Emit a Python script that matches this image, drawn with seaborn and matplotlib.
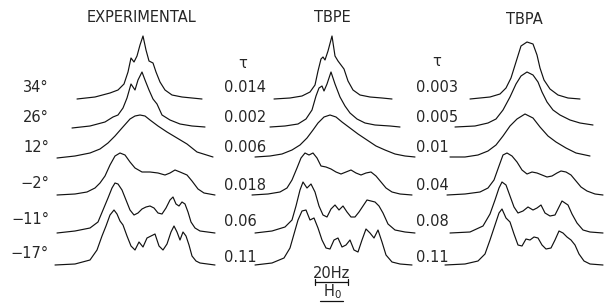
import pandas as pd
import matplotlib.pyplot as plt
import seaborn as sns

# Stacked 19F NMR spectra: experimental vs. two simulations at six temperatures.
temps = ["34°", "26°", "12°", "−2°", "−11°", "−17°"]
tau_tbpe = ["0.014", "0.002", "0.006", "0.018", "0.06", "0.11"]
tau_tbpa = ["0.003", "0.005", "0.01", "0.04", "0.08", "0.11"]
panels = ["EXPERIMENTAL", "TBPE", "TBPA"]

# frequency (chart units from panel start) and intensity above baseline
exp_freq = [
    [22, 40, 55, 63, 69, 73, 76, 79, 82, 85, 88, 91, 94, 98, 101, 105, 110, 117, 127, 137, 147],
    [17, 35, 50, 58, 63, 68, 72, 76, 80, 83, 87, 90, 94, 98, 102, 107, 115, 125, 137, 150],
    [2, 20, 35, 45, 53, 60, 67, 75, 80, 85, 90, 95, 103, 112, 122, 132, 142, 158],
    [2, 20, 32, 40, 45, 50, 55, 60, 65, 70, 75, 80, 87, 95, 103, 110, 115, 120, 125, 132, 137, 143, 149, 160],
    [2, 20, 35, 43, 48, 53, 57, 60, 63, 67, 71, 75, 79, 83, 87, 91, 95, 99, 103, 107, 111, 115, 118, 121, 124,
     127, 130, 133, 136, 140, 145, 160],
    [0, 20, 35, 42, 47, 51, 55, 59, 62, 65, 68, 72, 76, 80, 84, 88, 92, 96, 100, 104, 108, 112, 116, 119, 122,
     125, 128, 131, 134, 137, 141, 145, 160],
]
exp_int = [
    [0, 2, 6, 9, 15, 27, 41, 37, 43, 54, 63, 49, 38, 36, 27, 17, 9, 4, 2, 1, 0],
    [-1, 1, 5, 10, 12, 19, 29, 43, 37, 47, 55, 47, 37, 28, 23, 12, 7, 3, 1, 0],
    [-1, 1, 4, 8, 14, 21, 29, 38, 41, 42, 41, 37, 31, 25, 19, 13, 5, 0],
    [0, 1, 3, 7, 12, 19, 30, 39, 42, 40, 33, 27, 23, 23, 22, 20, 22, 25, 23, 20, 14, 6, 2, 0],
    [0, 2, 5, 11, 23, 35, 45, 50, 49, 43, 33, 23, 18, 20, 24, 26, 27, 25, 20, 19, 25, 33, 36, 29, 27,
     31, 29, 21, 11, 5, 2, 0],
    [0, 1, 5, 15, 29, 39, 50, 55, 51, 44, 40, 29, 19, 15, 23, 18, 27, 29, 31, 19, 15, 21, 33, 39, 33,
     25, 33, 29, 20, 9, 4, 2, 0],
]

tbpe_freq = [
    [24, 40, 52, 60, 65, 68, 71, 73, 75, 78, 82, 85, 88, 91, 94, 98, 103, 110, 120, 132, 142],
    [20, 35, 48, 56, 62, 66, 69, 72, 74, 77, 81, 85, 90, 95, 100, 107, 115, 125, 140, 150],
    [5, 20, 32, 42, 50, 57, 63, 68, 74, 80, 86, 92, 100, 108, 117, 126, 135, 145, 155, 165],
    [2, 18, 30, 37, 42, 47, 51, 55, 59, 63, 67, 71, 76, 81, 86, 91, 96, 101, 106, 111, 116, 121, 126, 131,
     136, 142, 150, 162],
    [5, 22, 35, 42, 46, 50, 53, 57, 61, 65, 69, 73, 77, 81, 85, 89, 93, 97, 101, 105, 109, 113, 117, 121,
     125, 129, 133, 138, 145, 155, 165],
    [5, 22, 34, 40, 44, 48, 52, 56, 60, 64, 68, 72, 76, 80, 84, 88, 92, 96, 100, 104, 108, 112, 116, 120,
     124, 128, 132, 136, 142, 150, 162],
]
tbpe_int = [
    [0, 1, 3, 7, 14, 28, 40, 42, 39, 48, 63, 43, 38, 34, 30, 18, 9, 4, 2, 1, 0],
    [0, 1, 3, 8, 17, 31, 39, 41, 36, 43, 55, 43, 30, 21, 14, 8, 4, 2, 1, 0],
    [0, 1, 3, 7, 12, 19, 27, 34, 40, 42, 40, 35, 29, 23, 17, 11, 7, 3, 1, 0],
    [0, 1, 3, 7, 15, 27, 37, 42, 40, 42, 37, 29, 28, 26, 23, 21, 23, 25, 22, 20, 22, 23, 19, 13,
     7, 3, 1, 0],
    [0, 2, 6, 13, 27, 43, 51, 45, 49, 41, 27, 18, 16, 24, 28, 23, 27, 21, 16, 16, 21, 27, 33, 32,
     31, 27, 20, 9, 3, 1, 0],
    [0, 2, 7, 17, 31, 45, 54, 55, 45, 47, 37, 25, 17, 16, 25, 27, 18, 20, 25, 15, 13, 25, 36, 32,
     27, 35, 23, 10, 3, 1, 0],
]

tbpa_freq = [
    [25, 45, 55, 61, 66, 71, 76, 82, 88, 92, 95, 99, 105, 113, 123, 135],
    [10, 30, 43, 51, 58, 65, 71, 76, 82, 88, 93, 97, 102, 108, 115, 125, 135, 148],
    [5, 20, 33, 43, 51, 58, 65, 72, 80, 88, 95, 103, 111, 121, 131, 145],
    [2, 20, 35, 43, 49, 54, 58, 62, 67, 72, 77, 82, 87, 92, 97, 102, 107, 112, 116, 121, 126, 131, 136,
     142, 150, 158],
    [5, 25, 38, 45, 50, 54, 57, 61, 65, 69, 73, 78, 83, 88, 92, 96, 100, 105, 110, 114, 117, 120, 123,
     127, 132, 138, 145, 158],
    [0, 20, 33, 40, 45, 50, 54, 57, 61, 65, 69, 73, 77, 81, 85, 89, 93, 97, 101, 106, 110, 114, 118,
     122, 126, 130, 134, 139, 145, 158],
]
tbpa_int = [
    [0, 2, 5, 11, 21, 37, 53, 57, 55, 44, 31, 19, 10, 4, 1, 0],
    [0, 1, 4, 8, 17, 30, 43, 51, 55, 52, 45, 35, 25, 17, 12, 7, 4, 2],
    [0, 0, 2, 6, 12, 21, 31, 38, 43, 39, 30, 21, 15, 9, 4, 1],
    [0, 1, 3, 7, 15, 29, 40, 42, 39, 33, 25, 21, 23, 22, 20, 18, 19, 22, 24, 23, 20, 14, 8,
     4, 1, 0],
    [0, 1, 7, 19, 33, 45, 51, 48, 37, 26, 20, 22, 26, 23, 25, 28, 20, 17, 18, 26, 32, 30, 28,
     19, 10, 3, 1, 0],
    [0, 1, 4, 11, 25, 40, 52, 56, 47, 43, 31, 20, 19, 26, 25, 28, 27, 20, 16, 17, 25, 34, 32,
     28, 25, 20, 11, 4, 1, 0],
]

# layout (figure is drawn in a 605 x 303 canvas)
panel_x0 = [55, 250, 445]
row_base = [99, 127, 157, 195, 233, 265]

rows = []
for p, (freqs, ints) in enumerate([(exp_freq, exp_int), (tbpe_freq, tbpe_int), (tbpa_freq, tbpa_int)]):
    for r in range(len(temps)):
        for f, v in zip(freqs[r], ints[r]):
            rows.append({"trace": f"{p}-{r}", "x": panel_x0[p] + f, "y": row_base[r] - v})
df = pd.DataFrame(rows)

sns.set_style("white")
plt.rcParams["font.family"] = ["DejaVu Sans"]

fig = plt.figure(figsize=(6.05, 3.03), dpi=100)
ax = fig.add_axes([0, 0, 1, 1])
sns.lineplot(ax=ax, data=df, x="x", y="y", units="trace", estimator=None, sort=False,
             color="#111111", linewidth=0.85, legend=False)
ax.set_xlim(0, 605)
ax.set_ylim(303, 0)
ax.axis("off")

fs = 10.5
ax.text(142, 18, panels[0], ha="center", va="center", fontsize=fs)
ax.text(332, 18, panels[1], ha="center", va="center", fontsize=fs)
ax.text(524, 20, panels[2], ha="center", va="center", fontsize=fs)
ax.text(243, 64, "τ", ha="center", va="center", fontsize=fs)
ax.text(437, 62, "τ", ha="center", va="center", fontsize=fs)

label_y = [87, 118, 148, 183, 220, 254]
tau_y = [87, 118, 148, 185, 222, 257]
for r in range(len(temps)):
    ax.text(49, label_y[r], temps[r], ha="right", va="center", fontsize=fs)
    ax.text(224, tau_y[r], tau_tbpe[r], ha="left", va="center", fontsize=fs)
    ax.text(416, tau_y[r], tau_tbpa[r], ha="left", va="center", fontsize=fs)

# 20 Hz scale bar and field direction
ax.plot([315, 348], [282, 282], color="#111111", lw=0.9)
ax.plot([315, 315], [279, 285], color="#111111", lw=0.9)
ax.plot([348, 348], [279, 285], color="#111111", lw=0.9)
ax.text(332, 273, "20Hz", ha="center", va="center", fontsize=fs)
ax.text(332, 292, "H$_0$", ha="center", va="center", fontsize=fs)
ax.plot([320, 343], [301, 301], color="#111111", lw=0.9)

plt.savefig("out.png", dpi=100)
